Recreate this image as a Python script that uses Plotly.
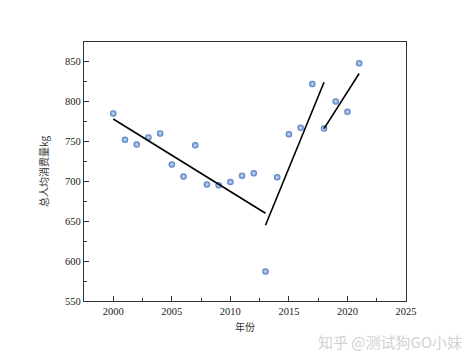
import plotly.graph_objects as go

years = list(range(2000, 2022))
consumption = [785, 752, 746, 755, 760, 721, 706, 745, 696, 695, 699, 707,
               710, 587, 705, 759, 767, 822, 766, 800, 787, 848]

fit1_x = [2000, 2013]
fit1_y = [778, 660]
fit2_x = [2013, 2018]
fit2_y = [645, 824]
fit3_x = [2018, 2021]
fit3_y = [766, 835]

x_ticks = [2000, 2005, 2010, 2015, 2020, 2025]
y_ticks = [550, 600, 650, 700, 750, 800, 850]

fig = go.Figure()
fig.add_trace(go.Scatter(
    x=years, y=consumption, mode="markers",
    marker=dict(size=6.5, color="#4a78c2",
                gradient=dict(type="radial", color="#d6e4f8"),
                line=dict(width=0)),
    showlegend=False))
for fx, fy in [(fit1_x, fit1_y), (fit2_x, fit2_y), (fit3_x, fit3_y)]:
    fig.add_trace(go.Scatter(x=fx, y=fy, mode="lines",
                             line=dict(color="black", width=1.6),
                             showlegend=False))

font = dict(family="Liberation Serif, Noto Sans CJK SC", size=10.5, color="#222")
axis_common = dict(
    showgrid=False, zeroline=False, showline=True, linecolor="#333",
    linewidth=1.2, mirror=True, ticks="inside", ticklen=5, tickwidth=1,
    tickcolor="#333", tickfont=font,
)
fig.update_xaxes(range=[1997.5, 2025], tickvals=x_ticks,
                 minor=dict(ticks="inside", ticklen=3, dtick=2.5,
                            tick0=2000, tickcolor="#333"),
                 title=dict(text="年份", font=dict(family="Noto Sans CJK SC", size=10, color="#333"),
                            standoff=8),
                 **axis_common)
fig.update_yaxes(range=[550, 874.5], tickvals=y_ticks,
                 minor=dict(ticks="inside", ticklen=3, dtick=25,
                            tick0=550, tickcolor="#333"),
                 title=dict(text="总人均消费量kg", font=dict(family="Noto Sans CJK SC", size=10, color="#333"),
                            standoff=14),
                 **axis_common)

fig.add_annotation(text="知乎 @测试狗GO小妹", xref="paper", yref="paper",
                   x=1.18, y=-0.155, xanchor="right", yanchor="middle",
                   showarrow=False,
                   font=dict(family="Noto Sans CJK SC", size=15, color="#d2d2d2"))

fig.update_layout(
    width=472, height=362,
    margin=dict(l=84, r=66, t=42, b=61),
    paper_bgcolor="white", plot_bgcolor="white",
    font=font,
)
fig.write_html("out.html")
